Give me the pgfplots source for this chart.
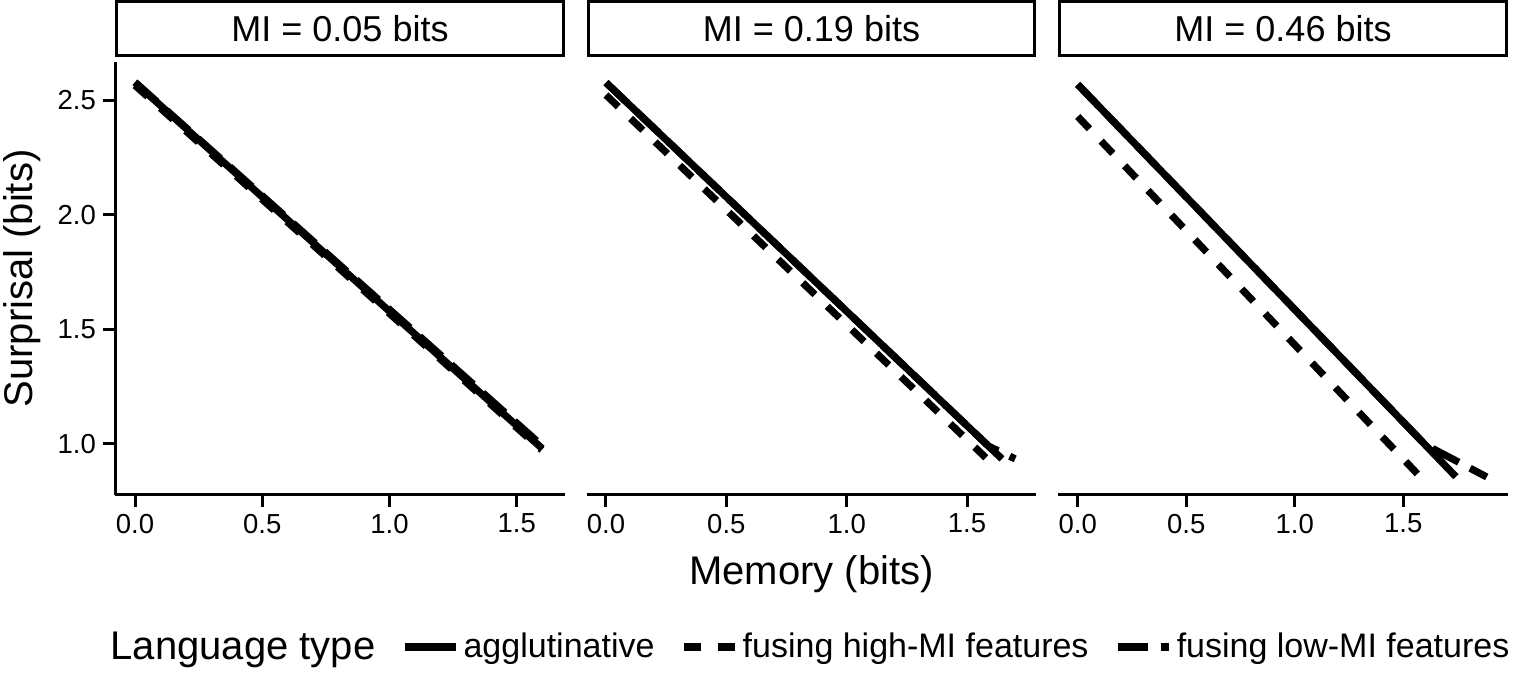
\documentclass[border=0pt]{standalone}
\usepackage{fontspec}
\setmainfont{Liberation Sans}
\usepackage{pgfplots}
\pgfplotsset{compat=1.18}

% line types of the three language types
\tikzset{
  agg/.style={black, line width=3.6pt, solid},
  fhigh/.style={black, line width=3.6pt, dash pattern=on 8.5pt off 8.5pt},
  flow/.style={black, line width=3.6pt, dash pattern=on 14.8pt off 6.4pt},
}

\pgfplotsset{
  every axis title shift=0pt,
  facet/.style={
    scale only axis,
    height=216.5pt,
    ymin=0.7773, ymax=2.668,
    axis x line*=bottom,
    axis line style={line width=1.5pt, -},
    xtick={0,0.5,1,1.5},
    ytick={1,1.5,2,2.5},
    tick align=outside,
    major tick length=6pt,
    tick style={black, line width=1.5pt},
    xticklabel style={font=\fontsize{13.75}{16}\selectfont,
      /pgf/number format/.cd, fixed, fixed zerofill, precision=1, assume math mode=true},
    yticklabel style={font=\fontsize{13.75}{16}\selectfont,
      /pgf/number format/.cd, fixed, fixed zerofill, precision=1, assume math mode=true},
    title style={at={(0.5,1)}, anchor=south, yshift=2.25pt, draw, line width=1.5pt,
      minimum width=\pgfkeysvalueof{/pgfplots/width}-1.5pt, minimum height=27pt, inner sep=0pt,
      font=\fontsize{18}{21}\selectfont},
    legend image code/.code={\draw[#1] (0pt,0pt) -- (25.5pt,0pt);},
  },
  nofirst/.style={axis y line=none, ytick=\empty},
}

\begin{document}
\begin{tikzpicture}
\useasboundingbox (0,0) rectangle (756.5pt,336.5pt);

% MI = 0.05 bits
\begin{axis}[facet, at={(57.5pt,89pt)}, anchor=south west, width=225pt,
  xmin=-0.0786, xmax=1.6896,
  axis y line*=left,
  title={MI = 0.05 bits},
  ylabel={Surprisal (bits)},
  ylabel style={at={(axis description cs:-0.2056,0.5)}, anchor=center, font=\fontsize{20}{24}\selectfont},
]
\addplot[agg]   coordinates {(0,2.578) (1.600,0.980)};
\addplot[fhigh] coordinates {(0,2.566) (1.598,0.974)};
\addplot[flow]  coordinates {(0,2.580) (1.612,0.980)};
\end{axis}

% MI = 0.19 bits
\begin{axis}[facet, nofirst, at={(293.5pt,89pt)}, anchor=south west, width=224.5pt,
  xmin=-0.0789, xmax=1.7865,
  title={MI = 0.19 bits},
  xlabel={Memory (bits)},
  xlabel style={at={(axis description cs:0.5,-0.1824)}, anchor=center, font=\fontsize{20}{24}\selectfont},
  legend columns=-1,
  legend cell align=left,
  legend style={at={(axis description cs:0.4967,-0.351)}, anchor=center, draw=none, fill=none,
    font=\fontsize{17}{20}\selectfont,
    nodes={inner xsep=2pt, inner ysep=1pt},
    /tikz/every even column/.append style={column sep=11pt}},
]
\addlegendimage{empty legend}
\addlegendentry{\fontsize{20}{24}\selectfont Language type\hspace{5pt}}
\addplot[agg]   coordinates {(0,2.578) (1.645,0.935)};
\addlegendentry{agglutinative}
\addplot[fhigh] coordinates {(0,2.524) (1.578,0.940)};
\addlegendentry{fusing high-MI features}
\addplot[flow]  coordinates {(0,2.578) (1.590,0.990) (1.700,0.935)};
\addlegendentry{fusing low-MI features}
\end{axis}

% MI = 0.46 bits
\begin{axis}[facet, nofirst, at={(529pt,89pt)}, anchor=south west, width=225pt,
  xmin=-0.0908, xmax=1.983,
  title={MI = 0.46 bits},
]
\addplot[agg]   coordinates {(0,2.570) (1.743,0.857)};
\addplot[fhigh] coordinates {(0,2.430) (1.585,0.850)};
\addplot[flow]  coordinates {(0,2.570) (1.600,0.998) (1.885,0.856)};
\end{axis}
\end{tikzpicture}
\end{document}
